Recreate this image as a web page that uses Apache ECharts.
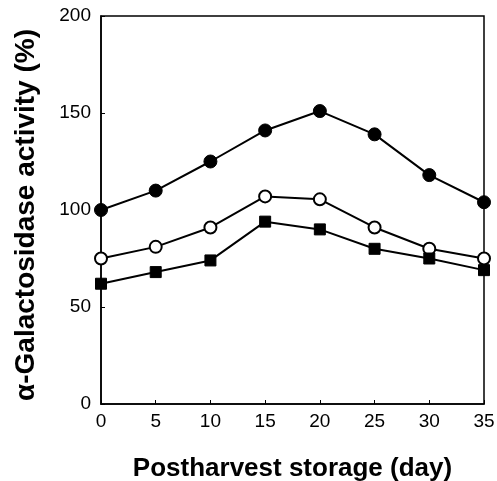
<!DOCTYPE html>
<html><head><meta charset="utf-8">
<script src="https://cdn.jsdelivr.net/npm/echarts@6/dist/echarts.min.js"></script>
<style>html,body{margin:0;padding:0;background:#fff;}#c{width:497px;height:481px;}</style>
</head><body><div id="c"></div>
<script>
const days = [0, 5, 10, 15, 20, 25, 30, 35];
const filledCircle = [100, 110, 125, 141, 151, 139, 118, 104];
const openCircle = [75, 81, 91, 107, 105.5, 91, 80, 75];
const filledSquare = [62, 68, 74, 94, 90, 80, 75, 69];
const yTicks = [0, 50, 100, 150, 200];
const xTitle = 'Postharvest storage (day)';
const yTitle = 'α-Galactosidase activity (%)';

const font = 'Liberation Sans, Arial, sans-serif';
function pairs(vals){ return days.map((d,i)=>[d, vals[i]]); }
const chart = echarts.init(document.getElementById('c'));
chart.setOption({
  animation: false,
  backgroundColor: '#fff',
  grid: {left: 101, right: 13, top: 16, bottom: 77, containLabel: false, outerBoundsMode: 'none',
         show: true, borderColor: '#000', borderWidth: 1.5},
  xAxis: {
    type: 'value', min: 0, max: 35, interval: 5,
    name: xTitle, nameLocation: 'middle', nameGap: 52,
    nameTextStyle: {fontFamily: font, fontSize: 26, fontWeight: 'bold', color: '#000'},
    axisLine: {show: true, onZero: false, lineStyle: {color: '#000', width: 1.5}},
    axisTick: {show: true, inside: true, length: 4, lineStyle: {color: '#000'}},
    axisLabel: {fontFamily: font, fontSize: 19, color: '#000', margin: 8},
    splitLine: {show: false}
  },
  yAxis: {
    type: 'value', min: 0, max: 200, interval: 50,
    name: yTitle, nameLocation: 'middle', nameGap: 61,
    nameTextStyle: {fontFamily: font, fontSize: 28, fontWeight: 'bold', color: '#000', padding: [0, 10, 0, 0]},
    axisLine: {show: true, lineStyle: {color: '#000', width: 1.5}},
    axisTick: {show: true, inside: true, length: 4, lineStyle: {color: '#000'}},
    axisLabel: {fontFamily: font, fontSize: 19, color: '#000', margin: 10,
      formatter: v => yTicks.includes(v) ? String(v) : ''},
    splitLine: {show: false}
  },
  series: [
    {type: 'line', data: pairs(filledCircle), symbol: 'circle', symbolSize: 13,
     lineStyle: {color: '#000', width: 2}, itemStyle: {color: '#000', borderColor: '#000', borderWidth: 1}},
    {type: 'line', data: pairs(openCircle), symbol: 'circle', symbolSize: 12,
     lineStyle: {color: '#000', width: 2}, itemStyle: {color: '#fff', borderColor: '#000', borderWidth: 2}},
    {type: 'line', data: pairs(filledSquare), symbol: 'rect', symbolSize: 11,
     lineStyle: {color: '#000', width: 2}, itemStyle: {color: '#000', borderColor: '#000', borderWidth: 1}}
  ]
});
</script></body></html>
